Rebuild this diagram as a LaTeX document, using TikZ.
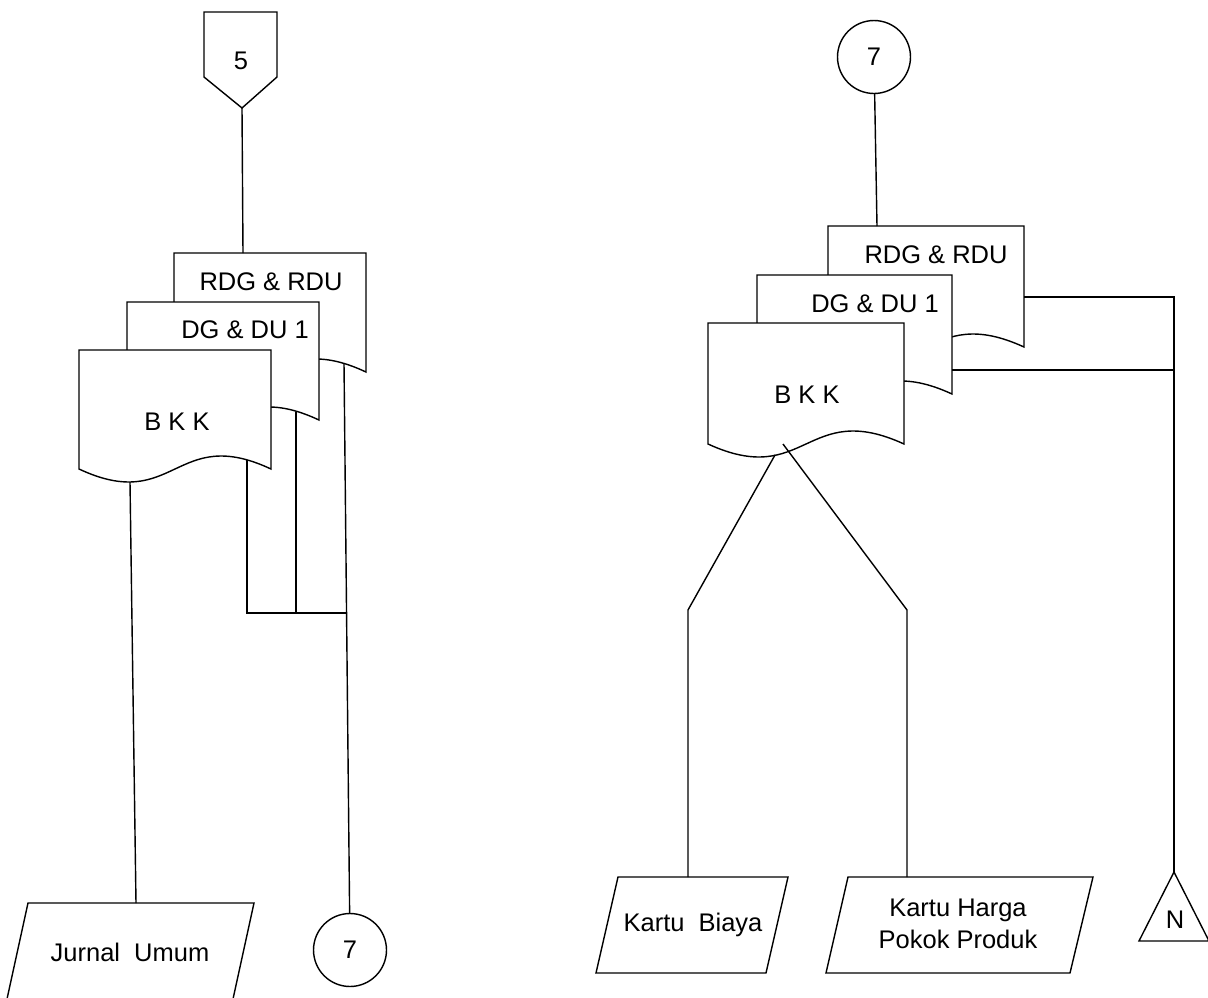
\documentclass[tikz,border=0pt]{standalone}
\usepackage{fontspec}
\setmainfont{Liberation Sans}

\tikzset{
  garis/.style={line width=0.8pt},
  dok/.style={draw, fill=white, line width=0.8pt},
  teks/.style={font=\fontsize{14.5}{18}\selectfont, inner sep=0pt, align=center},
  bulat/.style={draw, circle, line width=0.8pt, minimum size=1.46cm, inner sep=0pt,
    font=\fontsize{14.5}{18}\selectfont},
}

% dokumen: kiri, atas, kanan, bawah (bawah bergelombang)
\newcommand{\dokumen}[4]{%
  \path[dok] (#3,#4) -- (#3,#2) -- (#1,#2) -- (#1,#4)
    .. controls ({(#1+#3)/2},{#4+45}) and ({(#1+#3)/2},{#4-45}) .. (#3,#4) -- cycle;}

\begin{document}
\begin{tikzpicture}[x=0.02cm, y=-0.02cm]
\useasboundingbox (0,0) rectangle (1208,998);

% ---------------- bagian kiri ----------------
% Off-page connector 5
\draw[garis, fill=white] (204,12) -- (277,12) -- (277,77) -- (242,108) -- (204,77) -- cycle;
\node[teks] (lima) at (241,61) {5};
\coordinate (limaBawah) at (242,108);

% Dokumen bertumpuk (belakang ke depan)
\dokumen{174}{253}{366}{372}
\dokumen{127}{302}{319}{420}
\dokumen{79}{350}{271}{469}
\node[teks] (rdgL) at (271,282) {RDG \& RDU};
\node[teks] (dgL) at (245,330) {DG \& DU 1};
\node[teks] (bkkL) at (177,422) {B K K};

\coordinate (rdgLatas) at (243,253);
\coordinate (rdgLbawah) at (344,363);
\coordinate (dgLbawah) at (296,412);
\coordinate (bkkLkanan) at (247,460);
\coordinate (bkkLkiri) at (130,482);
\coordinate (gabung) at (347,613);
\coordinate (jurnalAtas) at (136,903);

% Jurnal Umum
\draw[garis] (28,903) -- (254,903) -- (233,999) -- (7,999) -- cycle;
\node[teks] (jurnal) at (130,952) {Jurnal~~Umum};

% On-page connector 7
\node[bulat] (tujuhB) at (350,950) {7};

% Garis
\draw[garis] (limaBawah) -- (rdgLatas);
\draw[garis] (bkkLkiri) -- (jurnalAtas);
\draw[garis] (bkkLkanan) |- (gabung);
\draw[garis] (dgLbawah) -- (dgLbawah |- gabung);
\draw[garis] (rdgLbawah) -- (tujuhB);

% ---------------- bagian kanan ----------------
% On-page connector 7
\node[bulat] (tujuhA) at (874,57) {7};

% Dokumen bertumpuk
\dokumen{828}{226}{1024}{347}
\dokumen{757}{275}{952}{394}
\dokumen{708}{323}{904}{444}
\node[teks] (rdgR) at (936,255) {RDG \& RDU};
\node[teks] (dgR) at (875,304) {DG \& DU 1};
\node[teks] (bkkR) at (807,395) {B K K};

\coordinate (rdgRatas) at (877,226);
\coordinate (rdgRkanan) at (1024,297);
\coordinate (dgRkanan) at (952,370);
\coordinate (bkkRkiri) at (775,455);
\coordinate (bkkRtengah) at (783,444);
\coordinate (belokKiri) at (688,610);
\coordinate (belokKanan) at (907,610);
\coordinate (biayaAtas) at (688,877);
\coordinate (hppAtas) at (907,877);
\coordinate (nAtas) at (1174,872);

% Kartu Biaya dan Kartu Harga Pokok Produk
\draw[garis] (618,877) -- (788,877) -- (766,973) -- (596,973) -- cycle;
\node[teks] (biaya) at (693,925) {Kartu~~Biaya};
\draw[garis] (848,877) -- (1093,877) -- (1070,973) -- (826,973) -- cycle;
\node[teks] (hpp) at (958,924) {Kartu Harga\\Pokok Produk};

% Arsip N
\draw[garis] (nAtas) -- (1209,941) -- (1139,941) -- cycle;
\node[teks] (arsipN) at (1175,920) {N};

% Garis
\draw[garis] (tujuhA) -- (rdgRatas);
\draw[garis] (rdgRkanan) -| (nAtas);
\draw[garis] (dgRkanan) -- (dgRkanan -| nAtas);
\draw[garis] (bkkRkiri) -- (belokKiri) -- (biayaAtas);
\draw[garis] (bkkRtengah) -- (belokKanan) -- (hppAtas);

\end{tikzpicture}
\end{document}
